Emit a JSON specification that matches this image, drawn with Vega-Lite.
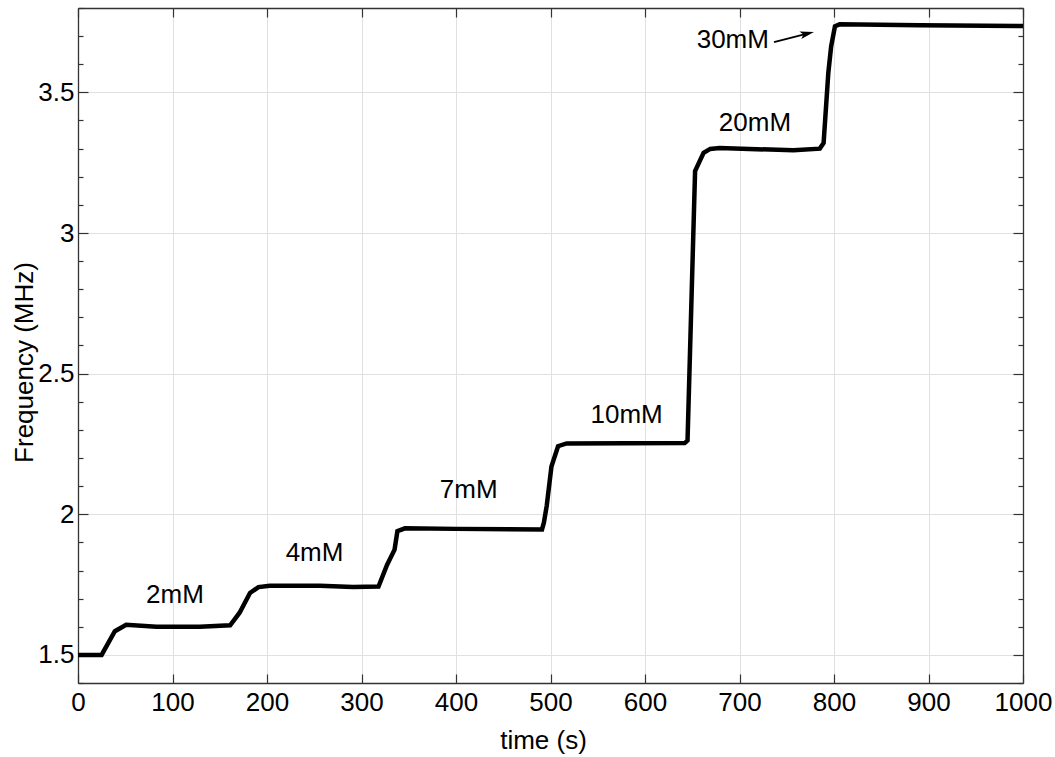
{
  "$schema": "https://vega.github.io/schema/vega-lite/v6.json",
  "autosize": {"type": "none"},
  "padding": {"left": 78, "top": 8, "right": 32, "bottom": 74},
  "width": 945,
  "height": 675,
  "background": "white",
  "config": {
    "view": {"stroke": null},
    "font": "Liberation Sans",
    "axis": {
      "domainColor": "#333333",
      "domainWidth": 1.3,
      "tickColor": "#333333",
      "tickWidth": 1.2,
      "gridColor": "#e0e0e0",
      "gridWidth": 1,
      "labelFont": "Liberation Sans",
      "labelFontSize": 26,
      "labelColor": "#000000",
      "titleFont": "Liberation Sans",
      "titleFontSize": 26,
      "titleFontWeight": "normal",
      "titleColor": "#000000",
      "labelOverlap": false,
      "labelFlush": false
    }
  },
  "datasets": {
    "series": [
      {"time": 0, "freq": 1.500},
      {"time": 25, "freq": 1.500},
      {"time": 39, "freq": 1.584},
      {"time": 51, "freq": 1.607},
      {"time": 83, "freq": 1.600},
      {"time": 129, "freq": 1.600},
      {"time": 161, "freq": 1.605},
      {"time": 171, "freq": 1.650},
      {"time": 182, "freq": 1.720},
      {"time": 191, "freq": 1.741},
      {"time": 203, "freq": 1.746},
      {"time": 256, "freq": 1.746},
      {"time": 291, "freq": 1.741},
      {"time": 318, "freq": 1.743},
      {"time": 327, "freq": 1.820},
      {"time": 335, "freq": 1.874},
      {"time": 338, "freq": 1.940},
      {"time": 346, "freq": 1.950},
      {"time": 400, "freq": 1.948},
      {"time": 491, "freq": 1.946},
      {"time": 493, "freq": 1.970},
      {"time": 496, "freq": 2.030},
      {"time": 501, "freq": 2.170},
      {"time": 508, "freq": 2.242},
      {"time": 517, "freq": 2.252},
      {"time": 642, "freq": 2.253},
      {"time": 645, "freq": 2.262},
      {"time": 653, "freq": 3.220},
      {"time": 662, "freq": 3.285},
      {"time": 669, "freq": 3.299},
      {"time": 679, "freq": 3.302},
      {"time": 757, "freq": 3.294},
      {"time": 785, "freq": 3.300},
      {"time": 789, "freq": 3.320},
      {"time": 794, "freq": 3.570},
      {"time": 797, "freq": 3.664},
      {"time": 801, "freq": 3.735},
      {"time": 806, "freq": 3.742},
      {"time": 891, "freq": 3.739},
      {"time": 1000, "freq": 3.736}
    ],
    "labels": [
      {"time": 102.6, "freq": 1.713, "label": "2mM"},
      {"time": 250.3, "freq": 1.863, "label": "4mM"},
      {"time": 413.4, "freq": 2.086, "label": "7mM"},
      {"time": 580.6, "freq": 2.353, "label": "10mM"},
      {"time": 716.4, "freq": 3.392, "label": "20mM"},
      {"time": 692.9, "freq": 3.686, "label": "30mM"}
    ],
    "arrow": [
      {"time": 736.5, "freq": 3.679},
      {"time": 771.6, "freq": 3.709}
    ],
    "arrowhead": [
      {"time": 771.6, "freq": 3.709}
    ]
  },
  "resolve": {"axis": {"x": "independent", "y": "independent"}},
  "layer": [
    {
      "data": {"name": "series"},
      "mark": {"type": "line", "color": "#000000", "strokeWidth": 4.5, "clip": true},
      "encoding": {
        "x": {
          "field": "time", "type": "quantitative",
          "scale": {"domain": [0, 1000], "nice": false, "zero": false},
          "axis": {
            "orient": "bottom",
            "title": "time (s)",
            "format": "d",
            "values": [0, 100, 200, 300, 400, 500, 600, 700, 800, 900, 1000],
            "tickSize": -9,
            "labelBaseline": "alphabetic",
            "labelPadding": 36,
            "grid": true,
            "titleX": 465,
            "titleY": 65,
            "titleBaseline": "alphabetic"
          }
        },
        "y": {
          "field": "freq", "type": "quantitative",
          "scale": {"domain": [1.4, 3.8], "nice": false, "zero": false},
          "axis": {
            "orient": "left",
            "title": "Frequency (MHz)",
            "values": [1.4, 1.5, 1.6, 1.7, 1.8, 1.9, 2.0, 2.1, 2.2, 2.3, 2.4, 2.5, 2.6, 2.7, 2.8, 2.9, 3.0, 3.1, 3.2, 3.3, 3.4, 3.5, 3.6, 3.7, 3.8],
            "tickSize": {"condition": {"test": "abs(datum.value*2 - round(datum.value*2)) < 0.01", "value": -10}, "value": -5},
            "labelExpr": "abs(datum.value*2 - round(datum.value*2)) < 0.01 && datum.value > 1.45 && datum.value < 3.75 ? format(datum.value, '~g') : ''",
            "labelPadding": 14,
            "labelBaseline": "middle",
            "grid": true,
            "gridOpacity": {"condition": {"test": "abs(datum.value*2 - round(datum.value*2)) < 0.01", "value": 1}, "value": 0},
            "titleX": -46,
            "titleY": 354,
            "titleBaseline": "alphabetic"
          }
        }
      }
    },
    {
      "data": {"name": "labels"},
      "mark": {"type": "text", "font": "Liberation Sans", "fontSize": 26, "color": "#000000", "align": "center", "baseline": "middle"},
      "encoding": {
        "x": {
          "field": "time", "type": "quantitative",
          "axis": {
            "orient": "top",
            "title": null,
            "labels": false,
            "grid": false,
            "values": [0, 100, 200, 300, 400, 500, 600, 700, 800, 900, 1000],
            "tickSize": -9
          }
        },
        "y": {
          "field": "freq", "type": "quantitative",
          "axis": {
            "orient": "right",
            "title": null,
            "labels": false,
            "grid": false,
            "values": [1.4, 1.5, 1.6, 1.7, 1.8, 1.9, 2.0, 2.1, 2.2, 2.3, 2.4, 2.5, 2.6, 2.7, 2.8, 2.9, 3.0, 3.1, 3.2, 3.3, 3.4, 3.5, 3.6, 3.7, 3.8],
            "tickSize": {"condition": {"test": "abs(datum.value*2 - round(datum.value*2)) < 0.01", "value": -10}, "value": -5}
          }
        },
        "text": {"field": "label"}
      }
    },
    {
      "data": {"name": "arrow"},
      "mark": {"type": "line", "color": "#000000", "strokeWidth": 1.8},
      "encoding": {
        "x": {"field": "time", "type": "quantitative", "axis": null},
        "y": {"field": "freq", "type": "quantitative", "axis": null}
      }
    },
    {
      "data": {"name": "arrowhead"},
      "mark": {"type": "point", "shape": "M 1 0 L -1 -0.55 L -0.55 0 L -1 0.55 Z", "size": 196, "angle": -14, "filled": true, "color": "#000000", "opacity": 1},
      "encoding": {
        "x": {"field": "time", "type": "quantitative", "axis": null},
        "y": {"field": "freq", "type": "quantitative", "axis": null}
      }
    }
  ]
}
